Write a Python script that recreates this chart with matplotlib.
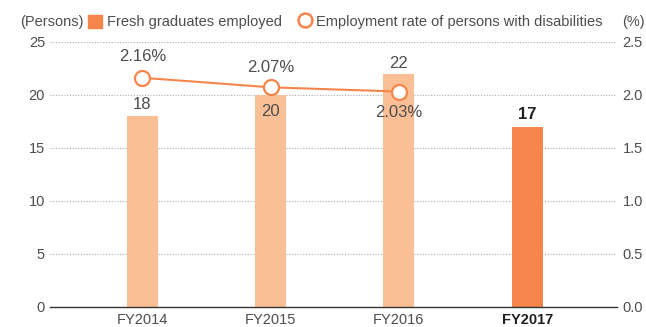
import matplotlib
matplotlib.use('Agg')
import matplotlib.pyplot as plt
from matplotlib.patches import Rectangle
from matplotlib.lines import Line2D

plt.rcParams['font.family'] = ['Liberation Sans', 'DejaVu Sans']

# Data
years = ['FY2014', 'FY2015', 'FY2016', 'FY2017']
graduates = [18, 20, 22, 17]
rate = [2.16, 2.07, 2.03]

light = '#fbbf96'
dark = '#f5854a'
text_col = '#4d4d4d'

fig = plt.figure(figsize=(6.46, 3.27), dpi=100)
ax = fig.add_axes([0.0774, 0.0612, 0.8777, 0.8113])
x = list(range(len(years)))

colors = [light] * (len(years) - 1) + [dark]
ax.bar(x, graduates, width=0.242, color=colors, zorder=2)

ax.set_xlim(-0.72, 3.70)
ax.set_ylim(0, 25)
ax.set_yticks(range(0, 26, 5))
ax.set_xticks(x)
ax.set_xticklabels(years)
ax.tick_params(axis='both', length=0, labelsize=10.5, colors=text_col)
ax.tick_params(axis='x', pad=4)
ax.tick_params(axis='y', pad=3.6)
ax.get_xticklabels()[-1].set_fontweight('bold')
ax.get_xticklabels()[-1].set_color('#222222')
ax.grid(axis='y', color='#aaaaaa', linestyle=(0, (1, 1.5)), linewidth=0.8, zorder=0)
for s in ['top', 'left', 'right']:
    ax.spines[s].set_visible(False)
ax.spines['bottom'].set_color('#333333')
ax.spines['bottom'].set_linewidth(1.0)
ax.spines['bottom'].set_zorder(3)

# bar value labels
offsets = [8, -12, 7.5, 8.5]
for i, v in enumerate(graduates):
    last = i == len(years) - 1
    ax.annotate(str(v), (i, v), xytext=(0, offsets[i]), textcoords='offset points',
                ha='center', va='center', fontsize=12,
                color='#222222' if last else text_col,
                fontweight='bold' if last else 'normal')

ax2 = ax.twinx()
ax2.set_ylim(0, 2.5)
ax2.set_yticks([0, 0.5, 1.0, 1.5, 2.0, 2.5])
ax2.set_yticklabels(['0.0', '0.5', '1.0', '1.5', '2.0', '2.5'])
ax2.tick_params(axis='y', length=0, labelsize=10.5, colors=text_col, pad=4)
for s in ax2.spines.values():
    s.set_visible(False)
ax2.plot(x[:len(rate)], rate, color=dark, linewidth=1.5, marker='o', markersize=10.8,
         markerfacecolor='white', markeredgecolor=dark, markeredgewidth=1.6, zorder=4)

rate_offsets = [15, 14.5, -15]
for i, r in enumerate(rate):
    ax2.annotate(f'{r:.2f}%', (i, r), xytext=(0, rate_offsets[i]), textcoords='offset points',
                 ha='center', va='center', fontsize=12, color=text_col)

# header: axis units and legend
fig.text(0.031, 0.933, '(Persons)', fontsize=10.5, color=text_col, va='center')
fig.text(0.998, 0.933, '(%)', fontsize=10.5, color=text_col, va='center', ha='right')
handles = [Rectangle((0, 0), 1, 1, color=dark),
           Line2D([], [], color='none', marker='o', markersize=10, markerfacecolor='white',
                  markeredgecolor=dark, markeredgewidth=1.8)]
fig.legend(handles, ['Fresh graduates employed', 'Employment rate of persons with disabilities'],
           loc='center left', bbox_to_anchor=(0.136, 0.933), ncol=2, frameon=False,
           fontsize=10.5, handlelength=1.0, handleheight=1.0, handletextpad=0.3,
           columnspacing=1.06, labelcolor=text_col, borderaxespad=0, borderpad=0)

fig.savefig('out.png', dpi=100)
